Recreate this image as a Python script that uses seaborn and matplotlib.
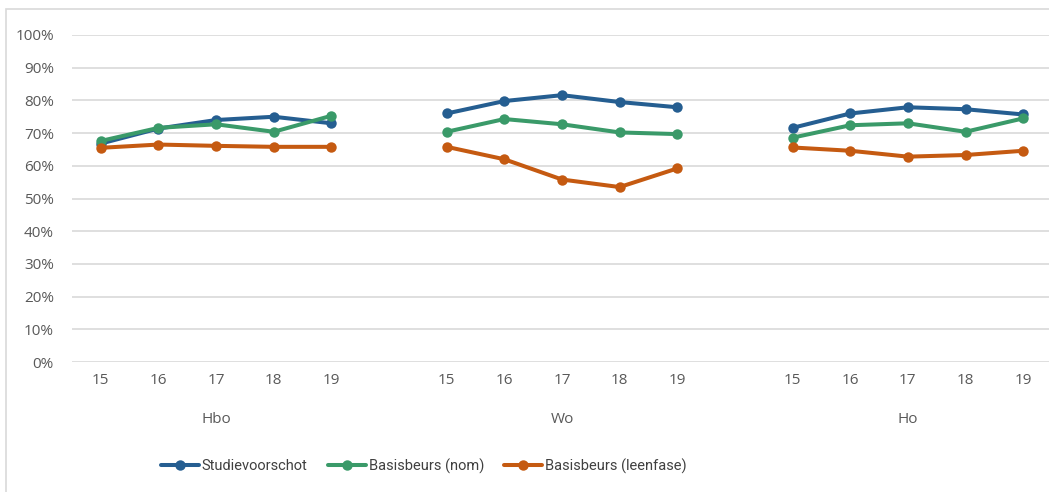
import pandas as pd
import seaborn as sns
import matplotlib.pyplot as plt
from matplotlib.patches import Rectangle

# Data
groups = ["Hbo", "Wo", "Ho"]
years = ["15", "16", "17", "18", "19"]
series = ["Studievoorschot", "Basisbeurs (nom)", "Basisbeurs (leenfase)"]

studievoorschot = [66.8, 71.4, 74.0, 75.0, 73.0,
                   76.0, 79.8, 81.6, 79.5, 77.9,
                   71.6, 76.0, 77.9, 77.3, 75.7]
basisbeurs_nom = [67.6, 71.6, 72.7, 70.4, 75.3,
                  70.4, 74.3, 72.7, 70.2, 69.7,
                  68.6, 72.4, 73.0, 70.4, 74.5]
basisbeurs_leen = [65.5, 66.5, 66.1, 65.8, 65.8,
                   65.8, 62.0, 55.8, 53.5, 59.2,
                   65.6, 64.6, 62.8, 63.3, 64.6]

colors = ["#255E91", "#3A9A69", "#C55A11"]

# Long table: one blank category slot between groups
rows = []
for name, vals in zip(series, [studievoorschot, basisbeurs_nom, basisbeurs_leen]):
    for g, grp in enumerate(groups):
        for i, yr in enumerate(years):
            rows.append({"serie": name, "groep": grp, "jaar": yr,
                         "pos": g * (len(years) + 1) + i,
                         "waarde": vals[g * len(years) + i] / 100})
df = pd.DataFrame(rows)

sns.set_style("white")
plt.rcParams["font.family"] = ["Open Sans", "DejaVu Sans"]

fig = plt.figure(figsize=(10.49, 4.92), dpi=100)
ax = fig.add_axes([72 / 1049, 1 - 362 / 492, 980 / 1049, 327 / 492])

# Chart border (Excel chart area)
fig.patches.append(Rectangle((6 / 1049, -0.05), 1.0, 1 - 9 / 492 + 0.05,
                             transform=fig.transFigure, fill=False,
                             edgecolor="#D9D9D9", linewidth=1.2))

sns.lineplot(data=df, x="pos", y="waarde", hue="serie", units="groep",
             estimator=None, palette=colors, hue_order=series,
             marker="o", markersize=7.5, markeredgewidth=0,
             linewidth=2.9, ax=ax, zorder=3)

ax.set_xlim(-0.5, 16.5)
ax.set_ylim(0, 1.0)
ax.set_yticks([i / 10 for i in range(11)])
ax.set_yticklabels([f"{i * 10}%" for i in range(11)])
ax.yaxis.grid(True, color="#D9D9D9", linewidth=1.2)
ax.set_axisbelow(True)

ax.set_xticks(df["pos"].unique())
ax.set_xticklabels(years * len(groups))
ax.tick_params(axis="both", length=0, labelsize=11, colors="#595959")
ax.tick_params(axis="y", pad=13)
ax.tick_params(axis="x", pad=8)
ax.set_xlabel("")
ax.set_ylabel("")

for g, grp in enumerate(groups):
    ax.text(g * (len(years) + 1) + 2, -0.177, grp, transform=ax.get_xaxis_transform(),
            ha="center", va="center", fontsize=11, color="#595959")

for spine in ax.spines.values():
    spine.set_visible(False)

sns.move_legend(ax, "center", bbox_to_anchor=(0.359, -0.318), ncol=3,
                frameon=False, title=None,
                prop={"family": ["Roboto", "DejaVu Sans"], "size": 10.5},
                handlelength=2.6, handletextpad=0.2, columnspacing=1.4)
for t in ax.get_legend().get_texts():
    t.set_color("#404040")

fig.savefig("out.png", dpi=100)
